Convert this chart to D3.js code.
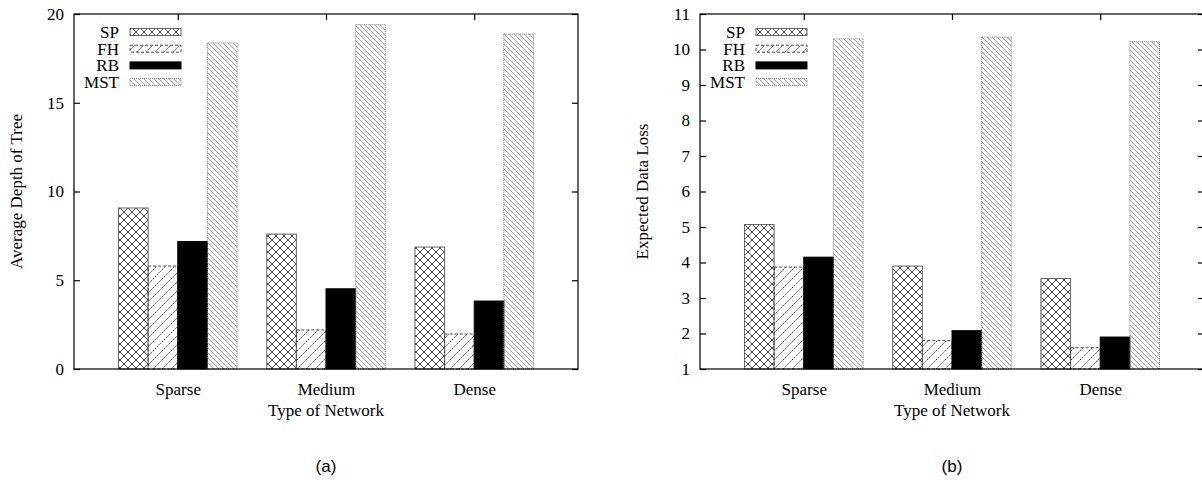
<!DOCTYPE html>
<html>
<head>
<meta charset="utf-8">
<script src="https://cdn.jsdelivr.net/npm/d3@7"></script>
<style>
  body { margin: 0; background: #fff; }
  text { font-family: "Liberation Serif", "Times New Roman", serif; }
</style>
</head>
<body>
<script>
// chart data
var categories = ['Sparse', 'Medium', 'Dense'];
var series = ['SP', 'FH', 'RB', 'MST'];

// (a) average depth of tree
var depthSP  = [9.07, 7.6, 6.87];
var depthFH  = [5.8, 2.2, 1.97];
var depthRB  = [7.18, 4.52, 3.83];
var depthMST = [18.37, 19.4, 18.87];
var depthTicks = [0, 5, 10, 15, 20];

// (b) expected data loss
var lossSP  = [5.07, 3.9, 3.55];
var lossFH  = [3.87, 1.8, 1.6];
var lossRB  = [4.15, 2.08, 1.9];
var lossMST = [10.3, 10.35, 10.22];
var lossTicks = [1, 2, 3, 4, 5, 6, 7, 8, 9, 10, 11];

var width = 1202, height = 484;

var svg = d3.select('body')
    .append('svg')
    .attr('width', width)
    .attr('height', height);

// fill patterns, gnuplot-ish
var defs = svg.append('defs');

function addPattern(id, size, d, color, sw, dash) {
    var p = defs.append('pattern')
        .attr('id', id)
        .attr('patternUnits', 'userSpaceOnUse')
        .attr('width', size)
        .attr('height', size);
    p.append('path')
        .attr('d', d)
        .attr('stroke', color)
        .attr('stroke-width', sw)
        .attr('stroke-dasharray', dash || null)
        .attr('fill', 'none');
}
addPattern('pSP', 8, 'M0,0L8,8M8,0L0,8M-1,7L1,9M7,-1L9,1M-1,1L1,-1M7,9L9,7', '#333', 0.9);
addPattern('pFH', 9, 'M0,9L9,0M-2,2L2,-2M7,11L11,7', '#333', 0.9, '2,1');
addPattern('pMST', 5, 'M0,0L5,5M-1,4L1,6M4,-1L6,1', '#8a8a8a', 0.85);

var styles = {
    SP:  { fill: 'url(#pSP)',  stroke: '#666', dash: null },
    FH:  { fill: 'url(#pFH)',  stroke: '#444', dash: '3,2' },
    RB:  { fill: '#000',       stroke: '#000', dash: null },
    MST: { fill: 'url(#pMST)', stroke: '#777', dash: '1,1' }
};

function drawPanel(opt) {
    var left = opt.left, right = opt.right, top = 14, bottom = 369;

    var x0 = d3.scaleLinear().domain([-0.7, 2.7]).range([left, right]);
    var x1 = d3.scaleBand().domain(series).range([-0.4, 0.4]);
    var y = d3.scaleLinear().domain(opt.domain).range([bottom, top]);

    var g = svg.append('g');

    // bottom axis with category names
    g.append('g')
        .attr('transform', 'translate(0,' + bottom + ')')
        .call(d3.axisBottom(x0).tickValues([0, 1, 2])
            .tickFormat(function(i) { return categories[i]; })
            .tickSize(-6).tickPadding(14))
        .call(styleAxis);

    // top mirror ticks
    g.append('g')
        .attr('transform', 'translate(0,' + top + ')')
        .call(d3.axisTop(x0).tickValues([0, 1, 2]).tickFormat('').tickSize(-6))
        .call(styleAxis);

    g.append('g')
        .attr('transform', 'translate(' + left + ',0)')
        .call(d3.axisLeft(y).tickValues(opt.ticks).tickFormat(d3.format('d'))
            .tickSize(-6).tickPadding(10))
        .call(styleAxis);

    g.append('g')
        .attr('transform', 'translate(' + right + ',0)')
        .call(d3.axisRight(y).tickValues(opt.ticks).tickFormat('').tickSize(-6))
        .call(styleAxis);

    // bars
    series.forEach(function(s, k) {
        var st = styles[s];
        g.append('g').selectAll('rect')
            .data(opt.values[k])
            .enter().append('rect')
            .attr('x', function(d, i) { return x0(i + x1(s)); })
            .attr('width', x0(x1.bandwidth()) - x0(0))
            .attr('y', function(d) { return y(d); })
            .attr('height', function(d) { return bottom - y(d); })
            .attr('fill', st.fill)
            .attr('stroke', st.stroke)
            .attr('stroke-width', 1)
            .attr('stroke-dasharray', st.dash);
    });

    // frame
    g.append('rect')
        .attr('x', left).attr('y', top)
        .attr('width', right - left).attr('height', bottom - top)
        .attr('fill', 'none')
        .attr('stroke', '#000')
        .attr('stroke-width', 1.2);

    // legend
    series.forEach(function(s, k) {
        var st = styles[s];
        var ly = 32 + k * 16.7;
        g.append('text')
            .attr('x', left + 45)
            .attr('y', ly + 6)
            .attr('text-anchor', 'end')
            .attr('font-size', 17)
            .text(s);
        g.append('rect')
            .attr('x', left + 56)
            .attr('y', ly - 3.5)
            .attr('width', 51)
            .attr('height', 7)
            .attr('fill', st.fill)
            .attr('stroke', st.stroke)
            .attr('stroke-dasharray', st.dash);
    });

    // axis titles
    g.append('text')
        .attr('transform', 'translate(' + (left - 52) + ',' + ((top + bottom) / 2) + ') rotate(-90)')
        .attr('text-anchor', 'middle')
        .attr('font-size', 17)
        .text(opt.ylabel);

    g.append('text')
        .attr('x', x0(1))
        .attr('y', 416)
        .attr('text-anchor', 'middle')
        .attr('font-size', 17)
        .text('Type of Network');

    g.append('text')
        .attr('x', x0(1))
        .attr('y', 472)
        .attr('text-anchor', 'middle')
        .attr('font-size', 17)
        .style('font-family', '"Liberation Sans", Arial, sans-serif')
        .text(opt.caption);
}

function styleAxis(sel) {
    sel.select('.domain').remove();
    sel.selectAll('line').attr('stroke', '#000').attr('stroke-width', 1.2);
    sel.selectAll('text')
        .attr('font-size', 17)
        .attr('fill', '#000')
        .style('font-family', '"Liberation Serif", serif');
}

drawPanel({
    left: 74, right: 578,
    domain: [0, 20], ticks: depthTicks,
    values: [depthSP, depthFH, depthRB, depthMST],
    ylabel: 'Average Depth of Tree',
    caption: '(a)'
});

drawPanel({
    left: 700, right: 1204,
    domain: [1, 11], ticks: lossTicks,
    values: [lossSP, lossFH, lossRB, lossMST],
    ylabel: 'Expected Data Loss',
    caption: '(b)'
});
</script>
</body>
</html>
